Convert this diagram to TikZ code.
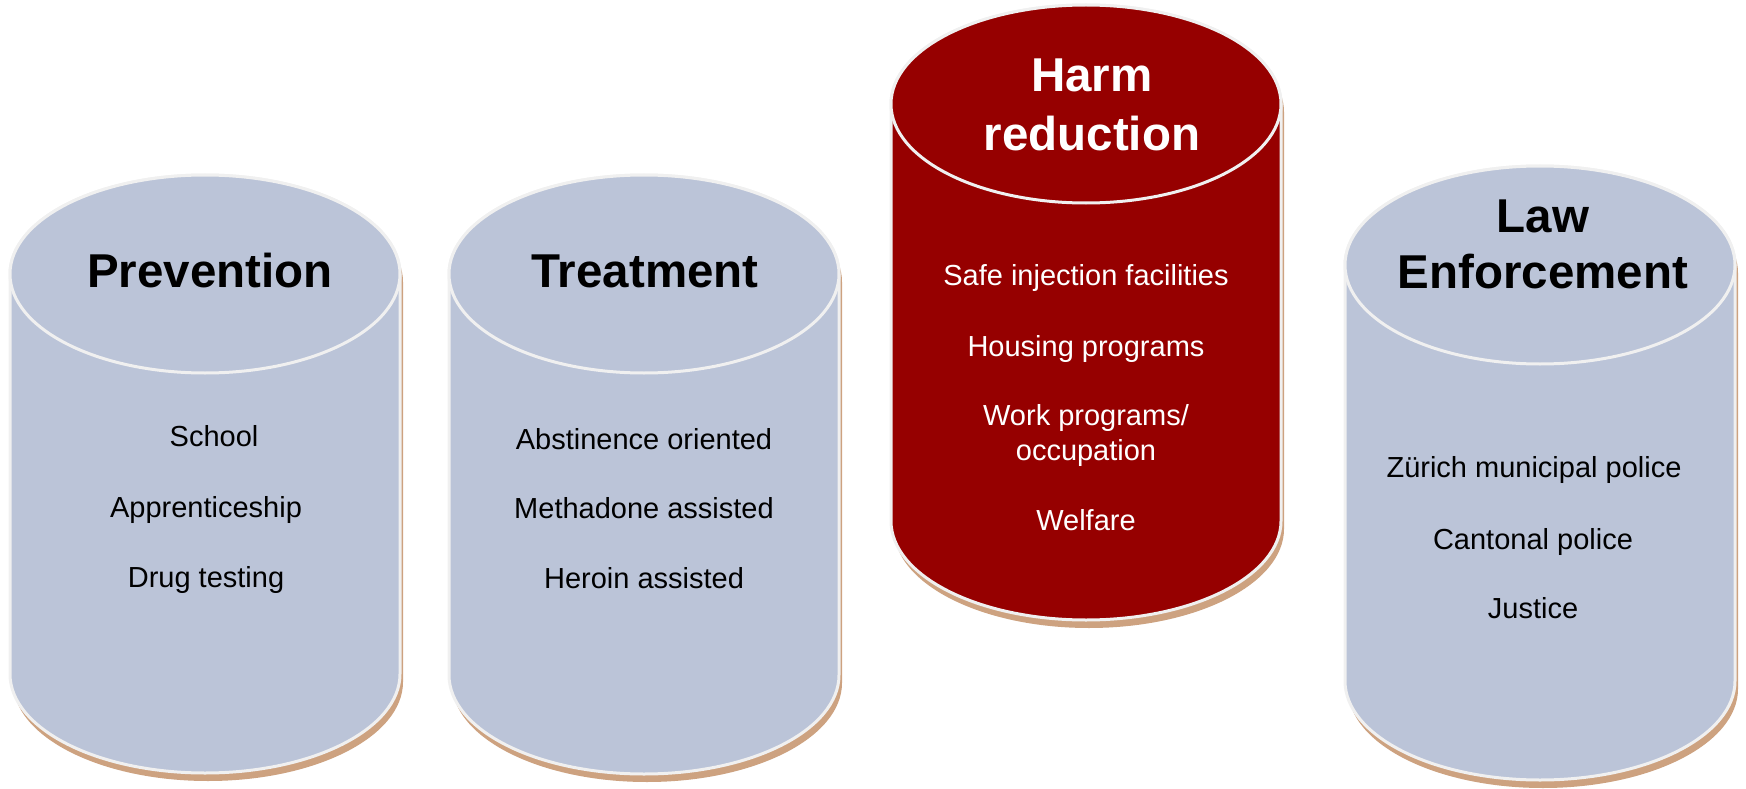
\documentclass[tikz,border=0pt]{standalone}
\usepackage{fontspec}
\setmainfont{Liberation Sans}
\definecolor{cylblue}{RGB}{187,196,216}
\definecolor{cylred}{RGB}{150,0,0}
\definecolor{cylrim}{RGB}{240,240,240}
\definecolor{cylshadow}{RGB}{205,162,128}
% #1 cx, #2 top centre y, #3 bottom centre y, #4 rx, #5 ry, #6 fill
\newcommand\mycyl[6]{%
  \path[fill=cylshadow, shift={(3,8)}]
    ({#1-#4},#2) -- ({#1-#4},#3)
    arc[start angle=180,end angle=0,x radius=#4,y radius=#5]
    -- ({#1+#4},#2)
    arc[start angle=0,end angle=-180,x radius=#4,y radius=#5] -- cycle;
  \path[fill=#6, draw=cylrim, line width=3pt]
    ({#1-#4},#2) -- ({#1-#4},#3)
    arc[start angle=180,end angle=0,x radius=#4,y radius=#5]
    -- ({#1+#4},#2)
    arc[start angle=0,end angle=-180,x radius=#4,y radius=#5] -- cycle;
  \path[fill=#6, draw=cylrim, line width=3pt]
    (#1,#2) ellipse[x radius=#4,y radius=#5];
}
\tikzset{
  head/.style={font=\bfseries\fontsize{47.5}{55}\selectfont, anchor=base, inner sep=0pt},
  item/.style={font=\fontsize{29}{35}\selectfont, anchor=base, inner sep=0pt}
}
\begin{document}
\begin{tikzpicture}[x=1pt,y=-1pt]
\useasboundingbox (0,0) rectangle (1746,789);
% cylinders
\mycyl{205}{274}{674}{195}{99}{cylblue}
\mycyl{644}{274}{675}{195}{99}{cylblue}
\mycyl{1086}{104}{521}{195}{99}{cylred}
\mycyl{1540}{265}{681}{195}{99}{cylblue}
% Prevention
\node[head] (prevh) at (210,287) {Prevention};
\node[item] (prev1) at (214,446) {School};
\node[item] (prev2) at (206,517) {Apprenticeship};
\node[item] (prev3) at (206,587) {Drug testing};
% Treatment
\node[head] (treath) at (645,287) {Treatment};
\node[item] (treat1) at (644,449) {Abstinence oriented};
\node[item] (treat2) at (644,518) {Methadone assisted};
\node[item] (treat3) at (644,588) {Heroin assisted};
% Harm reduction
\node[head, text=white] (harmh1) at (1092,92) {Harm};
\node[head, text=white] (harmh2) at (1092,150) {reduction};
\node[item, text=white] (harm1) at (1086,285) {Safe injection facilities};
\node[item, text=white] (harm2) at (1086,356) {Housing programs};
\node[item, text=white] (harm3a) at (1086,425) {Work programs/};
\node[item, text=white] (harm3b) at (1086,460) {occupation};
\node[item, text=white] (harm4) at (1086,530) {Welfare};
% Law Enforcement
\node[head] (lawh1) at (1543,232) {Law};
\node[head] (lawh2) at (1543,288) {Enforcement};
\node[item] (law1) at (1534,477) {Zürich municipal police};
\node[item] (law2) at (1533,549) {Cantonal police};
\node[item] (law3) at (1533,618) {Justice};
\end{tikzpicture}
\end{document}
